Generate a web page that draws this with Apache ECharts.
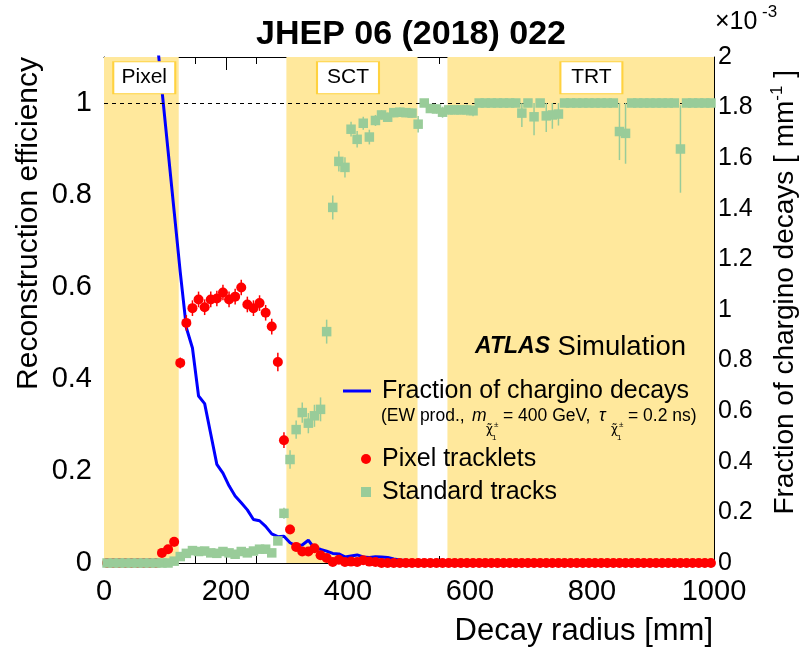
<!DOCTYPE html>
<html>
<head>
<meta charset="utf-8">
<script src="https://cdn.jsdelivr.net/npm/echarts@6/dist/echarts.min.js"></script>
<style>
  html, body { margin: 0; padding: 0; background: #fff; }
  #chart { width: 799px; height: 648px; }
</style>
</head>
<body>
<div id="chart"></div>
<script>
// Decay radius bin centres [mm]
const radius = [
  5, 15, 25, 35, 45, 55, 65, 75, 85, 95,
  105, 115, 125, 135, 145, 155, 165, 175, 185, 195,
  205, 215, 225, 235, 245, 255, 265, 275, 285, 295,
  305, 315, 325, 335, 345, 355, 365, 375, 385, 395,
  405, 415, 425, 435, 445, 455, 465, 475, 485, 495,
  505, 515, 525, 535, 545, 555, 565, 575, 585, 595,
  605, 615, 625, 635, 645, 655, 665, 675, 685, 695,
  705, 715, 725, 735, 745, 755, 765, 775, 785, 795,
  805, 815, 825, 835, 845, 855, 865, 875, 885, 895,
  905, 915, 925, 935, 945, 955, 965, 975, 985, 995
];

// Pixel tracklet reconstruction efficiency and its uncertainty
const pixelEff = [
  0, 0, 0, 0, 0, 0, 0, 0, 0, 0.022,
  0.030, 0.046, 0.435, 0.522, 0.554, 0.573, 0.556, 0.573, 0.575, 0.588,
  0.573, 0.579, 0.599, 0.562, 0.554, 0.565, 0.544, 0.514, 0.437, 0.267,
  0.073, 0.035, 0.025, 0.025, 0.032, 0.017, 0.011, 0.002, 0.007, 0.002,
  0.003, 0.002, 0.006, 0.003, 0.002, 0, 0, 0, 0, 0,
  0, 0, 0, 0, 0, 0, 0, 0, 0, 0,
  0, 0, 0, 0, 0, 0, 0, 0, 0, 0,
  0, 0, 0, 0, 0, 0, 0, 0, 0, 0,
  0, 0, 0, 0, 0, 0, 0, 0, 0, 0,
  0, 0, 0, 0, 0, 0, 0, 0, 0, 0
];
const pixelErr = [
  0.002, 0.002, 0.002, 0.002, 0.002, 0.002, 0.002, 0.002, 0.002, 0.008,
  0.009, 0.010, 0.012, 0.017, 0.017, 0.017, 0.017, 0.017, 0.017, 0.017,
  0.017, 0.017, 0.017, 0.017, 0.017, 0.017, 0.017, 0.017, 0.020, 0.017,
  0.010, 0.007, 0.005, 0.005, 0.005, 0.005, 0.004, 0.003, 0.003, 0.003,
  0.003, 0.003, 0.003, 0.003, 0.003, 0.002, 0.002, 0.002, 0.002, 0.002,
  0.002, 0.002, 0.002, 0.002, 0.002, 0.002, 0.002, 0.002, 0.002, 0.002,
  0.002, 0.002, 0.002, 0.002, 0.002, 0.002, 0.002, 0.002, 0.002, 0.002,
  0.002, 0.002, 0.002, 0.002, 0.002, 0.002, 0.002, 0.002, 0.002, 0.002,
  0.002, 0.002, 0.002, 0.002, 0.002, 0.002, 0.002, 0.002, 0.002, 0.002,
  0.002, 0.002, 0.002, 0.002, 0.002, 0.002, 0.002, 0.002, 0.002, 0.002
];

// Standard track reconstruction efficiency and its uncertainty
const stdEff = [
  0, 0, 0, 0, 0, 0, 0, 0, 0, 0,
  0, 0.004, 0.014, 0.021, 0.027, 0.025, 0.026, 0.022, 0.021, 0.025,
  0.022, 0.019, 0.025, 0.022, 0.026, 0.030, 0.030, 0.022, 0.048, 0.108,
  0.225, 0.290, 0.327, 0.304, 0.320, 0.334, 0.503, 0.773, 0.873, 0.860,
  0.943, 0.921, 0.956, 0.926, 0.962, 0.974, 0.969, 0.979, 0.980, 0.979,
  0.978, 0.954, 1.000, 0.988, 0.987, 0.980, 0.985, 0.985, 0.985, 0.985,
  0.983, 1, 1, 1, 1, 1, 1, 1, 0.978, 1,
  0.970, 1, 0.972, 0.974, 0.976, 1, 1, 1, 1, 1,
  1, 1, 1, 1, 0.938, 0.934, 1, 1, 1, 1,
  1, 1, 1, 1, 0.900, 1, 1, 1, 1, 1
];
const stdErr = [
  0.003, 0.003, 0.003, 0.003, 0.003, 0.003, 0.003, 0.003, 0.003, 0.003,
  0.003, 0.004, 0.006, 0.006, 0.006, 0.006, 0.006, 0.006, 0.006, 0.006,
  0.006, 0.006, 0.006, 0.006, 0.006, 0.006, 0.006, 0.006, 0.006, 0.012,
  0.020, 0.020, 0.022, 0.022, 0.024, 0.026, 0.026, 0.026, 0.022, 0.022,
  0.016, 0.018, 0.014, 0.016, 0.012, 0.010, 0.010, 0.010, 0.010, 0.010,
  0.010, 0.018, 0.006, 0.008, 0.010, 0.012, 0.010, 0.010, 0.010, 0.012,
  0.012, 0.004, 0.004, 0.004, 0.004, 0.004, 0.004, 0.004, 0.030, 0.004,
  0.040, 0.004, 0.035, 0.030, 0.025, 0.004, 0.004, 0.004, 0.004, 0.004,
  0.004, 0.004, 0.004, 0.004, 0.062, 0.066, 0.004, 0.004, 0.004, 0.004,
  0.004, 0.004, 0.004, 0.004, 0.095, 0.004, 0.004, 0.004, 0.004, 0.004
];

// Fraction of chargino decays per mm (x 10^-3), right-hand axis
const decayFraction = [
  null, null, null, null, null, null, null, null, 2.12, 1.87,
  1.63, 1.39, 1.15, 0.93, 0.85, 0.66, 0.63, 0.51, 0.39, 0.355,
  0.305, 0.265, 0.238, 0.21, 0.172, 0.167, 0.145, 0.115, 0.104, 0.106,
  0.08, 0.068, 0.071, 0.09, 0.058, 0.054, 0.047, 0.038, 0.036, 0.024,
  0.028, 0.032, 0.024, 0.022, 0.025, 0.024, 0.022, 0.016, 0.012, 0.010,
  0.008, 0.007, 0.006, 0.005, 0.004, 0.003, 0.003, 0.002, 0.002, 0.002,
  0.001, 0.001, 0.001, 0.001, 0.001, 0.001, 0.001, 0.001, 0.001, 0.001,
  0.001, 0.001, 0.001, 0.001, 0.001, 0.001, 0.001, 0.001, 0.001, 0.001,
  0.001, 0.001, 0.001, 0.001, 0.001, 0.001, 0.001, 0.001, 0.001, 0.001,
  0.001, 0.001, 0.001, 0.001, 0.001, 0.001, 0.001, 0.001, 0.001, 0.001
];

// Inner detector sub-system radial extents [mm]
const detectorNames = ['Pixel', 'SCT', 'TRT'];
const detectorStart = [0, 299, 563];
const detectorEnd = [122.5, 514, 1000];

const FONT = '"Liberation Sans", Arial, Helvetica, sans-serif';
const YELLOW = '#FFE89C';
const GREEN = '#99CC99';
const RED = '#FF0000';
const BLUE = '#0000FF';

const pixelData = radius.map((r, i) => [r, pixelEff[i], pixelErr[i]]);
const stdData = radius.map((r, i) => [r, stdEff[i], stdErr[i]]);
const lineData = radius.map((r, i) => [r, decayFraction[i]]).filter(d => d[1] !== null);

function errorBars(color) {
  return function (params, api) {
    const x = api.value(0), y = api.value(1), e = api.value(2);
    const lo = api.coord([x, Math.max(y - e, 0)]);
    const hi = api.coord([x, Math.min(y + e, 1)]);
    return {
      type: 'line',
      shape: { x1: lo[0], y1: lo[1], x2: hi[0], y2: hi[1] },
      style: { stroke: color, lineWidth: 1.5 }
    };
  };
}

const axisLine = { show: true, onZero: false, lineStyle: { color: '#000', width: 1 } };
const fmt = v => String(+v.toFixed(1));

const chart = echarts.init(document.getElementById('chart'), null, { renderer: 'canvas' });

const option = {
  animation: false,
  backgroundColor: '#fff',
  grid: { left: 104, right: 85, top: 57, bottom: 85, outerBoundsMode: 'none' },
  xAxis: [
    {
      type: 'value', min: 0, max: 1000, interval: 200, position: 'bottom',
      axisLine,
      axisTick: { show: true, inside: true, length: 13, lineStyle: { color: '#000' } },
      minorTick: { show: true, splitNumber: 4, length: 7, lineStyle: { color: '#000' } },
      splitLine: { show: false },
      axisLabel: { fontFamily: FONT, fontSize: 29, color: '#000', margin: 14, formatter: v => String(v) }
    },
    {
      type: 'value', min: 0, max: 1000, interval: 200, position: 'top',
      axisLine,
      axisTick: { show: true, inside: true, length: 13, lineStyle: { color: '#000' } },
      minorTick: { show: true, splitNumber: 4, length: 7, lineStyle: { color: '#000' } },
      splitLine: { show: false },
      axisLabel: { show: false }
    }
  ],
  yAxis: [
    {
      type: 'value', min: 0, max: 1.1, interval: 0.2, position: 'left',
      axisLine,
      axisTick: { show: true, inside: true, length: 20, lineStyle: { color: '#000' } },
      splitLine: { show: false },
      axisLabel: { fontFamily: FONT, fontSize: 29, color: '#000', margin: 12, showMaxLabel: false, formatter: fmt }
    },
    {
      type: 'value', min: 0, max: 2, interval: 0.2, position: 'right',
      axisLine,
      axisTick: { show: true, inside: true, length: 14, lineStyle: { color: '#000' } },
      minorTick: { show: true, splitNumber: 4, length: 8, lineStyle: { color: '#000' } },
      splitLine: { show: false },
      axisLabel: { fontFamily: FONT, fontSize: 25, color: '#000', margin: 4, formatter: fmt }
    },
    {
      // fine ticks for the efficiency axis
      type: 'value', min: 0, max: 1.1, interval: 0.05, position: 'left',
      axisLine: { show: false },
      axisTick: { show: true, inside: true, length: 10, lineStyle: { color: '#000' } },
      splitLine: { show: false },
      axisLabel: { show: false }
    }
  ],
  series: [
    {
      name: 'regions', type: 'line', data: [], z: 1, silent: true,
      markArea: {
        silent: true,
        itemStyle: { color: YELLOW, borderWidth: 0 },
        label: { show: false },
        data: detectorNames.map((n, i) => [{ xAxis: detectorStart[i] }, { xAxis: detectorEnd[i] }])
      }
    },
    {
      name: 'unity', type: 'line', data: [], z: 2, silent: true,
      markLine: {
        silent: true, symbol: 'none', animation: false,
        lineStyle: { color: '#000', type: [4, 4], width: 1 },
        label: { show: false },
        data: [{ yAxis: 1 }]
      }
    },
    {
      name: 'Fraction of chargino decays', type: 'line', yAxisIndex: 1, z: 3,
      data: lineData, showSymbol: false, clip: true,
      lineStyle: { color: BLUE, width: 3 }
    },
    {
      name: 'pixelErr', type: 'custom', z: 4, data: pixelData,
      encode: { x: 0, y: 1 }, renderItem: errorBars(RED)
    },
    {
      name: 'Pixel tracklets', type: 'scatter', z: 5, data: pixelData, clip: false,
      encode: { x: 0, y: 1 },
      symbol: 'circle', symbolSize: 10, itemStyle: { color: RED, opacity: 1 }
    },
    {
      name: 'stdErr', type: 'custom', z: 6, data: stdData,
      encode: { x: 0, y: 1 }, renderItem: errorBars(GREEN)
    },
    {
      name: 'Standard tracks', type: 'scatter', z: 7, data: stdData, clip: false,
      encode: { x: 0, y: 1 },
      symbol: 'rect', symbolSize: 9.5, itemStyle: { color: GREEN, opacity: 1 }
    },
    {
      name: 'detectorLabels', type: 'scatter', z: 10, silent: true, clip: false,
      data: [
        { value: [66, 1.055], name: detectorNames[0] },
        { value: [400, 1.055], name: detectorNames[1] },
        { value: [799, 1.055], name: detectorNames[2] }
      ],
      symbol: 'rect', symbolSize: [62, 32],
      itemStyle: { color: '#fff', borderColor: '#FFD23F', borderWidth: 1.5, opacity: 1 },
      label: {
        show: true, position: 'inside', formatter: p => p.name,
        fontFamily: FONT, fontSize: 21, color: '#000'
      }
    }
  ],
  graphic: [
    { type: 'text', x: 411, y: 35, z: 100,
      style: { text: 'JHEP 06 (2018) 022', font: 'bold 34px ' + FONT, fill: '#000', align: 'center', verticalAlign: 'middle' } },
    { type: 'text', x: 715, y: 22, z: 100,
      style: { text: '×10', font: '25px ' + FONT, fill: '#000', align: 'left', verticalAlign: 'middle' } },
    { type: 'text', x: 762, y: 12, z: 100,
      style: { text: '-3', font: '17px ' + FONT, fill: '#000', align: 'left', verticalAlign: 'middle' } },
    { type: 'text', x: 29, y: 57, rotation: Math.PI / 2, z: 100,
      style: { text: 'Reconstruction efficiency', font: '30px ' + FONT, fill: '#000', align: 'right', verticalAlign: 'middle' } },
    { type: 'text', x: 785, y: 70, rotation: Math.PI / 2, z: 100,
      style: {
        text: 'Fraction of chargino decays [ mm{s|-1} ]',
        font: '28px ' + FONT, fill: '#000', align: 'right', verticalAlign: 'middle', lineHeight: 32,
        rich: { s: { fontSize: 17, fontFamily: FONT, verticalAlign: 'top', lineHeight: 32 } }
      } },
    { type: 'text', x: 713, y: 631, z: 100,
      style: { text: 'Decay radius [mm]', font: '31px ' + FONT, fill: '#000', align: 'right', verticalAlign: 'middle' } },

    // key and labels
    { type: 'text', x: 550, y: 347, z: 100,
      style: { text: 'ATLAS', font: 'italic bold 23px ' + FONT, fill: '#000', align: 'right', verticalAlign: 'middle' } },
    { type: 'text', x: 686, y: 347, z: 100,
      style: { text: 'Simulation', font: '27.5px ' + FONT, fill: '#000', align: 'right', verticalAlign: 'middle' } },
    { type: 'line', z: 100, shape: { x1: 343, y1: 391, x2: 371, y2: 391 }, style: { stroke: BLUE, lineWidth: 3 } },
    { type: 'text', x: 382, y: 391, z: 100,
      style: { text: 'Fraction of chargino decays', font: '25px ' + FONT, fill: '#000', align: 'left', verticalAlign: 'middle' } },
    { type: 'text', x: 381, y: 416, z: 100,
      style: { text: '(EW prod., ', font: '17.5px ' + FONT, fill: '#000', align: 'left', verticalAlign: 'middle' } },
    { type: 'text', x: 472, y: 416, z: 100,
      style: { text: 'm', font: 'italic 17.5px ' + FONT, fill: '#000', align: 'left', verticalAlign: 'middle' } },
    { type: 'text', x: 486, y: 430, z: 100,
      style: { text: 'χ̃', font: '12px "DejaVu Sans", ' + FONT, fill: '#000', align: 'left', verticalAlign: 'middle' } },
    { type: 'text', x: 494, y: 425, z: 100,
      style: { text: '±', font: '8px ' + FONT, fill: '#000', align: 'left', verticalAlign: 'middle' } },
    { type: 'text', x: 492, y: 438, z: 100,
      style: { text: '1', font: '8px ' + FONT, fill: '#000', align: 'left', verticalAlign: 'middle' } },
    { type: 'text', x: 503, y: 416, z: 100,
      style: { text: '= 400 GeV,', font: '17.5px ' + FONT, fill: '#000', align: 'left', verticalAlign: 'middle' } },
    { type: 'text', x: 599, y: 416, z: 100,
      style: { text: 'τ', font: 'italic 17.5px ' + FONT, fill: '#000', align: 'left', verticalAlign: 'middle' } },
    { type: 'text', x: 611, y: 430, z: 100,
      style: { text: 'χ̃', font: '12px "DejaVu Sans", ' + FONT, fill: '#000', align: 'left', verticalAlign: 'middle' } },
    { type: 'text', x: 619, y: 425, z: 100,
      style: { text: '±', font: '8px ' + FONT, fill: '#000', align: 'left', verticalAlign: 'middle' } },
    { type: 'text', x: 617, y: 438, z: 100,
      style: { text: '1', font: '8px ' + FONT, fill: '#000', align: 'left', verticalAlign: 'middle' } },
    { type: 'text', x: 628, y: 416, z: 100,
      style: { text: '= 0.2 ns)', font: '17.5px ' + FONT, fill: '#000', align: 'left', verticalAlign: 'middle' } },
    { type: 'circle', z: 100, shape: { cx: 366, cy: 459, r: 5 }, style: { fill: RED } },
    { type: 'text', x: 382, y: 459, z: 100,
      style: { text: 'Pixel tracklets', font: '25px ' + FONT, fill: '#000', align: 'left', verticalAlign: 'middle' } },
    { type: 'rect', z: 100, shape: { x: 361, y: 487, width: 10, height: 10 }, style: { fill: GREEN } },
    { type: 'text', x: 382, y: 492, z: 100,
      style: { text: 'Standard tracks', font: '25px ' + FONT, fill: '#000', align: 'left', verticalAlign: 'middle' } }
  ]
};

chart.setOption(option);
</script>
</body>
</html>
